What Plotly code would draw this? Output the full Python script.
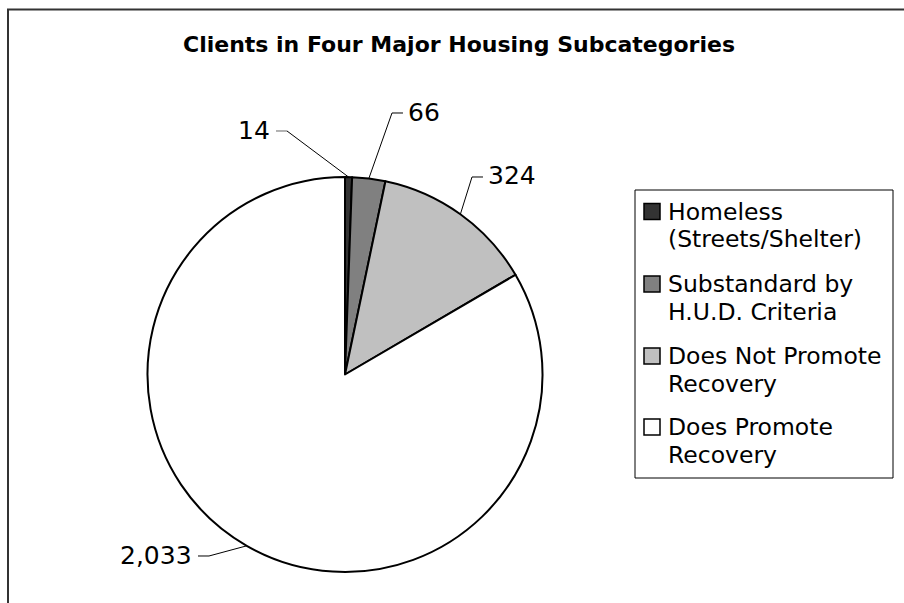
import math
import plotly.graph_objects as go

# ---- data ----
categories = ["Homeless (Streets/Shelter)", "Substandard by H.U.D. Criteria",
              "Does Not Promote Recovery", "Does Promote Recovery"]
legend_lines = [["Homeless", "(Streets/Shelter)"], ["Substandard by", "H.U.D. Criteria"],
                ["Does Not Promote", "Recovery"], ["Does Promote", "Recovery"]]
values = [14, 66, 324, 2033]
colors = ["#333333", "#808080", "#c0c0c0", "#ffffff"]
title = "Clients in Four Major Housing Subcategories"

# ---- layout constants (pixels) ----
W, H = 904, 603
CX, CY, R = 345, 374.5, 197.5
FONT = "DejaVu Sans"
# label elbow / end / text anchor for each slice
label_style = [
    dict(elbow=(287, 131), end=(276, 131), text=(272, 130), anchor="right", tick="#666666"),
    dict(elbow=(392, 113), end=(403, 113), text=(406, 112), anchor="left", tick="#000000"),
    dict(elbow=(472, 177), end=(483, 177), text=(486, 175), anchor="left", tick="#000000"),
    dict(elbow=(209, 556), end=(198, 556), text=(194, 555), anchor="right", tick="#000000"),
]


def px(x):
    return x / W


def py(y):
    return 1 - y / H


fig = go.Figure()
fig.add_trace(go.Pie(
    labels=categories, values=values, sort=False, direction="clockwise", rotation=0,
    marker=dict(colors=colors, line=dict(color="#000000", width=2)),
    textinfo="none", hoverinfo="label+value", showlegend=False,
    domain=dict(x=[px(CX - R), px(CX + R)], y=[py(CY + R), py(CY - R)]),
))

shapes = []
annotations = []

# outer chart frame
shapes.append(dict(type="rect", xref="paper", yref="paper",
                   x0=px(8), x1=px(916), y0=py(615), y1=py(9.5),
                   line=dict(color="#333333", width=2), fillcolor="rgba(0,0,0,0)", layer="below"))

# title
annotations.append(dict(text="<b>%s</b>" % title, xref="paper", yref="paper",
                        x=px(459), y=py(45), xanchor="center", yanchor="middle",
                        showarrow=False, font=dict(family=FONT, size=22, color="#000000")))

# data labels with leader lines
total = sum(values)
cum = 0
for v, st in zip(values, label_style):
    mid = (cum + v / 2) / total * 2 * math.pi
    cum += v
    ex = CX + R * math.sin(mid)
    ey = CY - R * math.cos(mid)
    path = "M %f,%f L %f,%f" % (px(ex), py(ey), px(st["elbow"][0]), py(st["elbow"][1]))
    shapes.append(dict(type="path", xref="paper", yref="paper", path=path,
                       line=dict(color="#000000", width=1)))
    tick = "M %f,%f L %f,%f" % (px(st["elbow"][0]), py(st["elbow"][1]),
                                px(st["end"][0]), py(st["end"][1]))
    shapes.append(dict(type="path", xref="paper", yref="paper", path=tick,
                       line=dict(color=st["tick"], width=1)))
    annotations.append(dict(text=f"{v:,}", xref="paper", yref="paper",
                            x=px(st["text"][0]), y=py(st["text"][1]),
                            xanchor=st["anchor"], yanchor="middle", showarrow=False,
                            font=dict(family=FONT, size=25, color="#000000")))

# legend (drawn manually to match layout)
shapes.append(dict(type="rect", xref="paper", yref="paper",
                   x0=px(635), x1=px(893), y0=py(478), y1=py(190),
                   line=dict(color="#000000", width=1), fillcolor="#ffffff", layer="below"))
first_line_y = [211.5, 284, 356, 427]
for lines, c, y0 in zip(legend_lines, colors, first_line_y):
    shapes.append(dict(type="rect", xref="paper", yref="paper",
                       x0=px(644), x1=px(660), y0=py(y0 + 8), y1=py(y0 - 8),
                       line=dict(color="#000000", width=1.5), fillcolor=c))
    for k, ln in enumerate(lines):
        annotations.append(dict(text=ln, xref="paper", yref="paper",
                                x=px(666), y=py(y0 + 27.5 * k), xanchor="left", yanchor="middle",
                                showarrow=False,
                                font=dict(family=FONT, size=23.5, color="#000000")))

fig.update_layout(
    width=W, height=H, autosize=False,
    margin=dict(l=0, r=0, t=0, b=0),
    paper_bgcolor="#ffffff", plot_bgcolor="#ffffff",
    shapes=shapes, annotations=annotations, showlegend=False,
)

fig.write_html("out.html")
